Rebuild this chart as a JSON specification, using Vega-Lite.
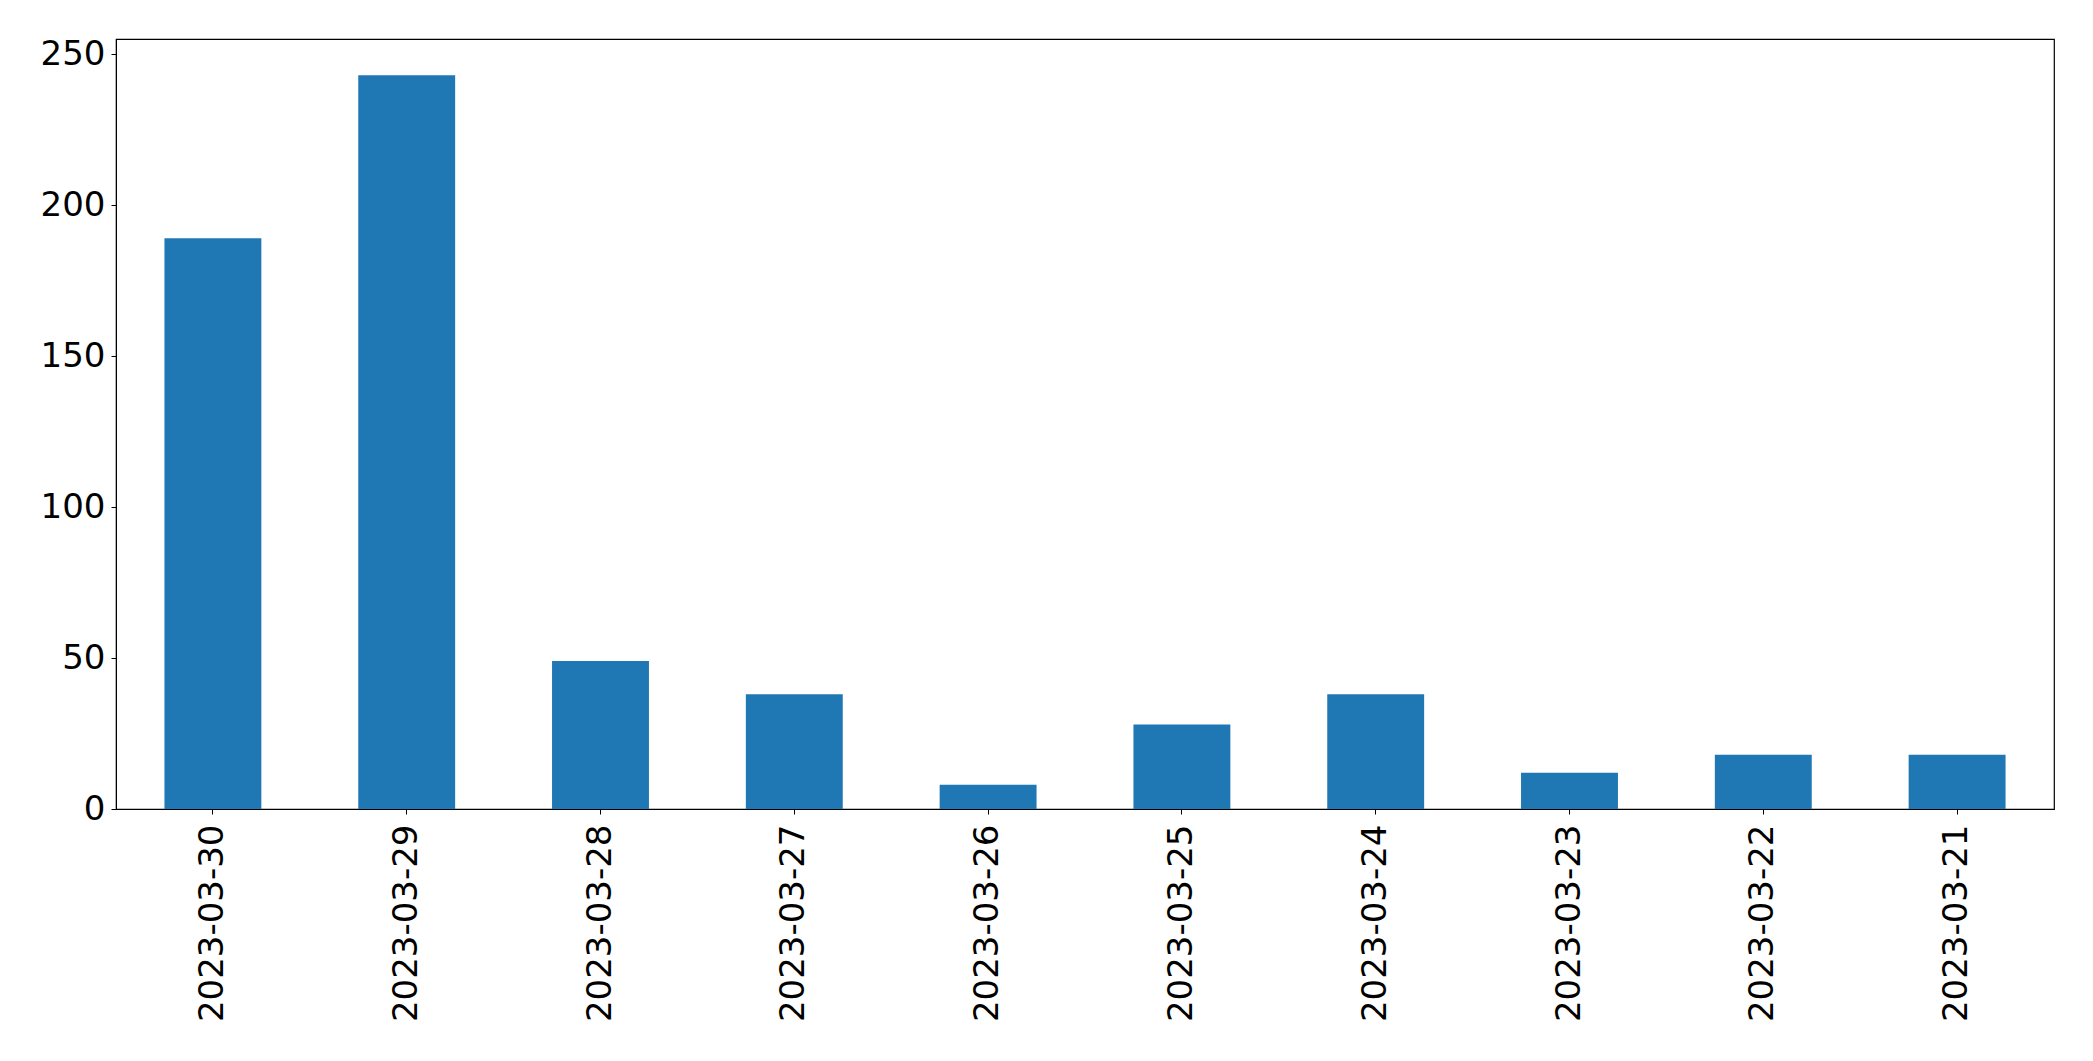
{
  "$schema": "https://vega.github.io/schema/vega-lite/v6.json",
  "width": 1938,
  "height": 770,
  "autosize": {"type": "none"},
  "padding": {"left": 116, "top": 39, "right": 39, "bottom": 252},
  "background": "white",
  "config": {
    "font": "DejaVu Sans",
    "view": {"stroke": "black", "strokeWidth": 1.2},
    "axis": {
      "grid": false,
      "domainColor": "black",
      "tickColor": "black",
      "labelColor": "black",
      "labelFont": "DejaVu Sans",
      "labelFontSize": 34,
      "labelLimit": 0,
      "tickSize": 5,
      "title": null
    }
  },
  "data": {
    "values": [
      {"date": "2023-03-30", "count": 189},
      {"date": "2023-03-29", "count": 243},
      {"date": "2023-03-28", "count": 49},
      {"date": "2023-03-27", "count": 38},
      {"date": "2023-03-26", "count": 8},
      {"date": "2023-03-25", "count": 28},
      {"date": "2023-03-24", "count": 38},
      {"date": "2023-03-23", "count": 12},
      {"date": "2023-03-22", "count": 18},
      {"date": "2023-03-21", "count": 18}
    ]
  },
  "mark": {"type": "bar", "color": "#1f77b4"},
  "encoding": {
    "x": {
      "field": "date",
      "type": "nominal",
      "sort": null,
      "scale": {"paddingInner": 0.5, "paddingOuter": 0.25},
      "axis": {"labelAngle": 270, "labelPadding": 10}
    },
    "y": {
      "field": "count",
      "type": "quantitative",
      "scale": {"domain": [0, 255], "nice": false},
      "axis": {"values": [0, 50, 100, 150, 200, 250], "labelPadding": 6}
    }
  }
}
